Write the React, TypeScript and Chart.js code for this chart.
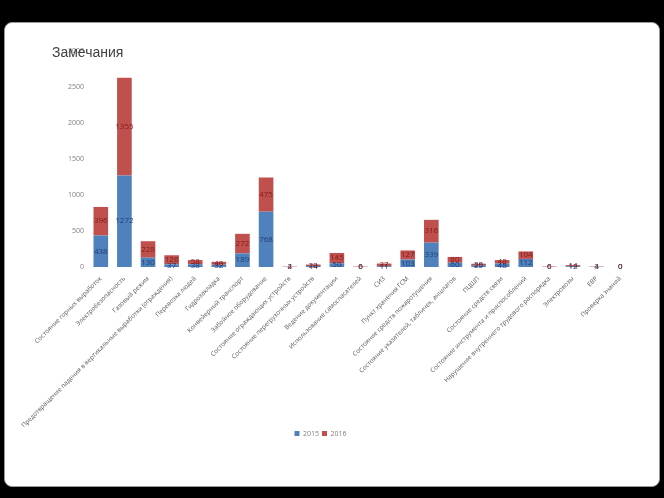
import React, { useEffect, useRef } from "react";
import { Chart, registerables } from "chart.js";

Chart.register(...registerables);

const categories = [
  "Состояние горных выработок",
  "Электробезопасность",
  "Газовый режим",
  "Предотвращение падения в вертикальные выработки (ограждения)",
  "Перевозка людей",
  "Гидрозакладка",
  "Конвейерный транспорт",
  "Забойное оборудование",
  "Состояние ограждающих устройств",
  "Состояние перегрузочных устройств",
  "Ведение документации",
  "Использование самоспасателей",
  "СИЗ",
  "Пункт хранения ГСМ",
  "Состояние средств пожаротушения",
  "Состояние указателей, табличек, аншлагов",
  "ПЦШП",
  "Состояние средств связи",
  "Состояние инструмента и приспособлений",
  "Нарушение внутреннего трудового распорядка",
  "Электровозы",
  "ЕВР",
  "Проверка знаний",
];

const series2015 = [438, 1272, 130, 37, 38, 32, 189, 768, 2, 14, 50, 0, 11, 103, 339, 60, 25, 48, 112, 0, 12, 4, 0];
const series2016 = [396, 1355, 228, 126, 58, 40, 272, 475, 4, 20, 145, 6, 37, 127, 316, 80, 20, 48, 104, 6, 14, 3, 0];
const seriesNames = ["2015", "2016"];
const yTicks = [0, 500, 1000, 1500, 2000, 2500, 3000];

const labelColors = ["#1F3D73", "#7E1C1C"];

const dataLabelPlugin = {
  id: "segLabels",
  afterDatasetsDraw(chart: any) {
    const ctx = chart.ctx;
    ctx.save();
    ctx.font = "8px 'Open Sans', sans-serif";
    ctx.textAlign = "center";
    ctx.textBaseline = "middle";
    chart.data.datasets.forEach((ds: any, di: number) => {
      const meta = chart.getDatasetMeta(di);
      meta.data.forEach((el: any, i: number) => {
        const v = ds.data[i];
        const y = (el.y + el.base) / 2;
        ctx.fillStyle = labelColors[di];
        ctx.fillText(String(v), el.x, y);
      });
    });
    ctx.restore();
  },
};

export default function App() {
  const ref = useRef<HTMLCanvasElement>(null);
  useEffect(() => {
    if (!ref.current) return;
    const chart = new Chart(ref.current, {
      type: "bar",
      data: {
        labels: categories,
        datasets: [
          { label: seriesNames[0], data: series2015, backgroundColor: "#4F81BD", borderWidth: 0 },
          { label: seriesNames[1], data: series2016, backgroundColor: "#C0504D", borderWidth: 0 },
        ],
      },
      options: {
        animation: false,
        responsive: true,
        maintainAspectRatio: false,
        layout: { padding: { top: 28, left: 4, right: 27, bottom: 39 } },
        datasets: { bar: { categoryPercentage: 1, barPercentage: 0.62 } },
        scales: {
          x: {
            stacked: true,
            grid: { display: false, drawTicks: false },
            border: { display: false },
            ticks: {
              autoSkip: false,
              maxRotation: 45,
              minRotation: 45,
              padding: 8,
              color: "#595959",
              font: { family: "'Open Sans', sans-serif", size: 6.3 },
            },
            afterFit: (s: any) => {
              s.height = 160;
            },
          },
          y: {
            stacked: true,
            min: 0,
            max: 3000,
            grid: { display: false, drawTicks: false },
            border: { display: false },
            afterBuildTicks: (s: any) => {
              s.ticks = yTicks.map((v) => ({ value: v }));
            },
            ticks: {
              padding: 5,
              color: "#7F7F7F",
              font: { family: "'Open Sans', sans-serif", size: 7 },
              callback: (v: any) => String(v),
            },
            afterFit: (s: any) => {
              s.width = 80;
            },
          },
        },
        plugins: {
          legend: {
            position: "bottom",
            labels: {
              boxWidth: 5,
              boxHeight: 5,
              padding: 3,
              color: "#7F7F7F",
              font: { family: "'Open Sans', sans-serif", size: 7 },
            },
          },
          tooltip: { enabled: false },
        },
      },
      plugins: [dataLabelPlugin],
    });
    return () => chart.destroy();
  }, []);

  return (
    <div style={{ position: "fixed", left: 0, top: 0, width: 664, height: 498, background: "#000" }}>
      <div
        style={{
          position: "absolute",
          left: 4,
          top: 22,
          width: 656,
          height: 465,
          boxSizing: "border-box",
          background: "#fff",
          border: "1px solid #9a9a9a",
          borderRadius: 8,
          overflow: "hidden",
        }}
      >
        <div style={{ position: "absolute", left: 0, top: 0, width: 654, height: 463 }}>
          <canvas ref={ref} />
        </div>
        <div
          style={{
            position: "absolute",
            left: 47,
            top: 21,
            fontFamily: "'Liberation Sans', Arial, sans-serif",
            fontSize: 14,
            lineHeight: "16px",
            color: "#404040",
            pointerEvents: "none",
          }}
        >
          Замечания
        </div>
      </div>
    </div>
  );
}
